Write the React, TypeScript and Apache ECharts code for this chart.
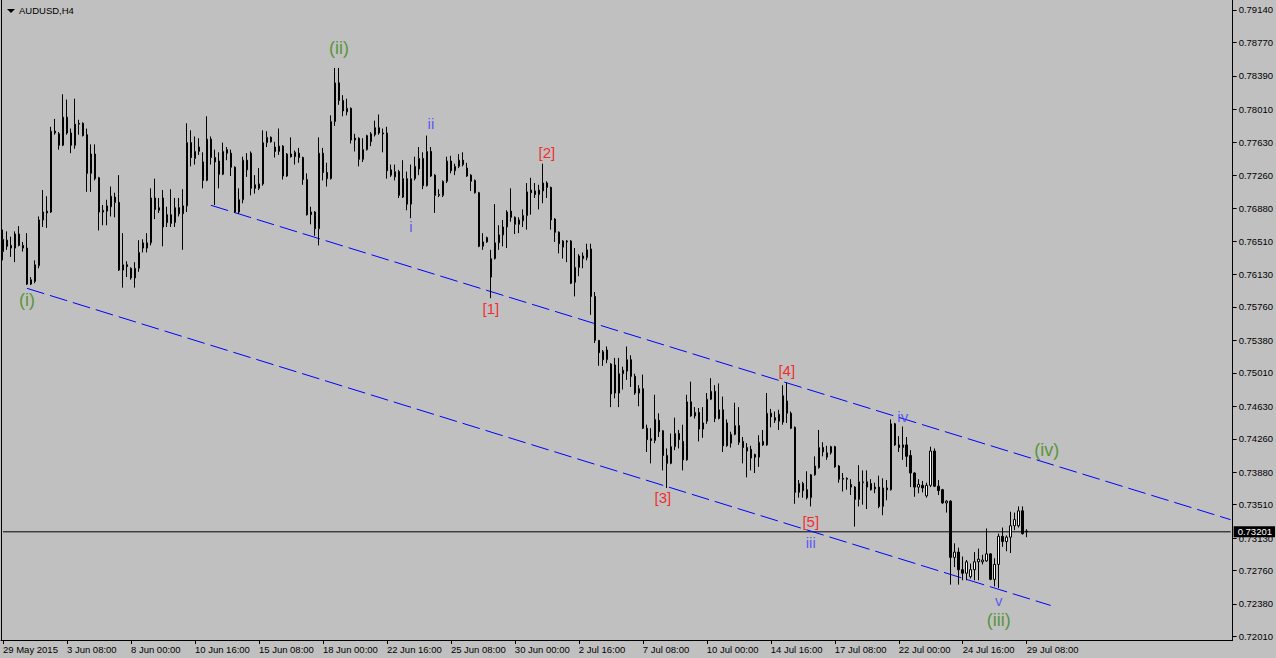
import React, { useEffect, useRef } from "react";
import * as echarts from "echarts";

// OHLC candles, format [open, close, low, high], H4 bars, AUDUSD
const may29 = [
  [0.7639, 0.7653, 0.7629, 0.7664],
  [0.7652, 0.7645, 0.7641, 0.7662],
];
const jun01 = [
  [0.7646, 0.7643, 0.7633, 0.7656],
  [0.7643, 0.7659, 0.7627, 0.7662],
  [0.7659, 0.7646, 0.7645, 0.7668],
  [0.7646, 0.7643, 0.7639, 0.765],
  [0.7643, 0.7602, 0.7601, 0.766],
  [0.7602, 0.7607, 0.7601, 0.761],
  [0.7605, 0.7624, 0.7603, 0.7629],
  [0.7623, 0.7675, 0.762, 0.7679],
  [0.7675, 0.7684, 0.7667, 0.7709],
  [0.7685, 0.7683, 0.7666, 0.7702],
  [0.7684, 0.7776, 0.7683, 0.7781],
  [0.7776, 0.7774, 0.7772, 0.779],
  [0.7773, 0.776, 0.7755, 0.7775],
  [0.776, 0.7792, 0.7759, 0.7818],
  [0.7792, 0.7774, 0.7772, 0.7812],
  [0.7774, 0.776, 0.7751, 0.7779],
  [0.776, 0.7784, 0.7756, 0.7813],
  [0.7784, 0.7785, 0.7772, 0.7789],
  [0.7785, 0.7771, 0.777, 0.7786],
  [0.7772, 0.7728, 0.7707, 0.7779],
  [0.7728, 0.775, 0.7707, 0.7761],
  [0.775, 0.7722, 0.772, 0.7761],
  [0.7723, 0.7684, 0.7663, 0.7724],
  [0.7684, 0.7686, 0.7669, 0.7692],
  [0.7685, 0.7691, 0.7669, 0.7698],
  [0.769, 0.7702, 0.7679, 0.7713],
  [0.7701, 0.7695, 0.7678, 0.7706],
  [0.7695, 0.7618, 0.7617, 0.7726],
  [0.7618, 0.7624, 0.7598, 0.766],
  [0.7624, 0.7622, 0.761, 0.7628],
];
const jun08 = [
  [0.762, 0.7609, 0.7607, 0.7621],
  [0.7609, 0.762, 0.7598, 0.7627],
  [0.762, 0.7638, 0.7616, 0.7652],
  [0.7643, 0.7649, 0.7638, 0.7653],
  [0.7643, 0.7649, 0.7638, 0.766],
  [0.7649, 0.77, 0.7646, 0.7711],
  [0.77, 0.7687, 0.7676, 0.7722],
  [0.7686, 0.7689, 0.7683, 0.77],
  [0.77, 0.7667, 0.7645, 0.7709],
  [0.7681, 0.7672, 0.7667, 0.769],
  [0.7671, 0.7681, 0.7667, 0.771],
  [0.7672, 0.7689, 0.7667, 0.77],
  [0.7689, 0.7682, 0.7679, 0.77],
  [0.7682, 0.7691, 0.7641, 0.771],
  [0.7691, 0.7763, 0.7684, 0.7785],
  [0.7763, 0.7746, 0.7736, 0.7777],
  [0.7745, 0.7753, 0.7738, 0.777],
  [0.7753, 0.7758, 0.7749, 0.7768],
  [0.7741, 0.772, 0.7711, 0.7752],
  [0.772, 0.7767, 0.7719, 0.7793],
  [0.7767, 0.7746, 0.7738, 0.777],
  [0.7746, 0.7741, 0.7692, 0.7755],
  [0.7742, 0.7727, 0.7711, 0.7752],
  [0.7727, 0.7753, 0.7726, 0.7763],
  [0.7755, 0.7751, 0.7743, 0.7758],
  [0.7751, 0.7735, 0.7725, 0.7755],
  [0.7735, 0.7684, 0.7683, 0.7736],
  [0.7684, 0.7698, 0.7682, 0.7711],
  [0.7698, 0.7743, 0.7694, 0.7747],
  [0.7743, 0.7732, 0.7724, 0.7751],
];
const jun15 = [
  [0.7751, 0.7711, 0.7703, 0.7753],
  [0.7715, 0.7711, 0.7705, 0.7726],
  [0.7711, 0.7716, 0.7709, 0.7734],
  [0.7716, 0.7763, 0.7714, 0.7777],
  [0.7763, 0.7769, 0.7758, 0.7776],
  [0.7769, 0.7764, 0.7763, 0.777],
  [0.7758, 0.7753, 0.7746, 0.7764],
  [0.7753, 0.7759, 0.7749, 0.7779],
  [0.7759, 0.7725, 0.7721, 0.776],
  [0.7725, 0.775, 0.7724, 0.7751],
  [0.775, 0.7747, 0.7746, 0.7769],
  [0.7747, 0.7752, 0.7738, 0.7754],
  [0.7751, 0.7746, 0.774, 0.7757],
  [0.7746, 0.7721, 0.7715, 0.7747],
  [0.7721, 0.7681, 0.768, 0.7728],
  [0.7681, 0.7684, 0.767, 0.769],
  [0.7684, 0.7665, 0.7657, 0.7685],
  [0.7665, 0.7751, 0.7646, 0.7769],
  [0.7751, 0.7729, 0.772, 0.7757],
  [0.7729, 0.7722, 0.7713, 0.774],
  [0.7722, 0.7787, 0.7721, 0.7794],
  [0.7787, 0.7831, 0.7782, 0.7848],
  [0.7831, 0.7811, 0.7806, 0.7848],
  [0.7811, 0.7799, 0.7793, 0.7817],
  [0.7798, 0.7802, 0.7794, 0.7813],
  [0.7802, 0.7766, 0.7762, 0.7803],
  [0.7768, 0.7766, 0.7753, 0.7773],
  [0.7768, 0.7744, 0.7736, 0.7769],
  [0.7744, 0.7755, 0.7741, 0.7768],
  [0.7755, 0.7771, 0.7754, 0.7772],
];
const jun22 = [
  [0.7764, 0.7773, 0.7759, 0.7775],
  [0.7772, 0.778, 0.777, 0.7788],
  [0.778, 0.7774, 0.7772, 0.7795],
  [0.7774, 0.7773, 0.7752, 0.7779],
  [0.7774, 0.7731, 0.7722, 0.7781],
  [0.7732, 0.7726, 0.7724, 0.7738],
  [0.7724, 0.773, 0.772, 0.7738],
  [0.773, 0.7703, 0.77, 0.7732],
  [0.7701, 0.7722, 0.77, 0.7743],
  [0.7722, 0.7693, 0.7686, 0.773],
  [0.7693, 0.7722, 0.7677, 0.7738],
  [0.7722, 0.7736, 0.772, 0.7747],
  [0.7733, 0.7745, 0.7726, 0.7758],
  [0.7745, 0.7714, 0.771, 0.7752],
  [0.7714, 0.7753, 0.7713, 0.7771],
  [0.7753, 0.7725, 0.7724, 0.7758],
  [0.7726, 0.7703, 0.7683, 0.7727],
  [0.7703, 0.7704, 0.7701, 0.771],
  [0.7703, 0.7719, 0.7701, 0.772],
  [0.7719, 0.7742, 0.7717, 0.7747],
  [0.7742, 0.7731, 0.7728, 0.7748],
  [0.7731, 0.7736, 0.7726, 0.7739],
  [0.7736, 0.7743, 0.7734, 0.775],
  [0.7743, 0.7738, 0.7736, 0.7752],
  [0.7734, 0.7725, 0.7724, 0.774],
  [0.7726, 0.7719, 0.7708, 0.7727],
  [0.772, 0.7706, 0.7705, 0.7721],
  [0.7706, 0.7645, 0.7644, 0.7707],
  [0.7645, 0.765, 0.7641, 0.766],
  [0.765, 0.7655, 0.7649, 0.7656],
];
const jun29 = [
  [0.761, 0.7631, 0.7586, 0.7641],
  [0.7631, 0.7649, 0.763, 0.7693],
  [0.7649, 0.7658, 0.7641, 0.7669],
  [0.7658, 0.7667, 0.7645, 0.7675],
  [0.7667, 0.7684, 0.7643, 0.7686],
  [0.7685, 0.7678, 0.7673, 0.7711],
  [0.7678, 0.767, 0.7659, 0.7679],
  [0.767, 0.7675, 0.766, 0.7678],
  [0.7674, 0.768, 0.7667, 0.7687],
  [0.768, 0.7707, 0.7664, 0.7717],
  [0.7709, 0.7706, 0.7681, 0.7723],
  [0.7708, 0.7704, 0.77, 0.7717],
  [0.7704, 0.7709, 0.7687, 0.7715],
  [0.7708, 0.7717, 0.7694, 0.7739],
  [0.7717, 0.7712, 0.77, 0.7719],
  [0.7712, 0.7675, 0.7664, 0.7713],
  [0.7676, 0.7661, 0.765, 0.7677],
  [0.7661, 0.7648, 0.7637, 0.7662],
  [0.7644, 0.7651, 0.7631, 0.7652],
  [0.7651, 0.765, 0.7627, 0.7652],
  [0.7651, 0.7603, 0.7602, 0.7652],
  [0.7604, 0.7621, 0.7588, 0.7643],
  [0.7621, 0.7634, 0.7611, 0.7636],
  [0.7634, 0.7631, 0.762, 0.7638],
  [0.7632, 0.7641, 0.7629, 0.7648],
  [0.7642, 0.7588, 0.7567, 0.7648],
  [0.7588, 0.7538, 0.7535, 0.7593],
  [0.7538, 0.7524, 0.7509, 0.7538],
  [0.7525, 0.7516, 0.7509, 0.7527],
  [0.7516, 0.7527, 0.7512, 0.7531],
];
const jul06 = [
  [0.7477, 0.7511, 0.7462, 0.7512],
  [0.751, 0.7478, 0.7472, 0.7518],
  [0.7478, 0.75, 0.7462, 0.7518],
  [0.75, 0.7504, 0.7482, 0.7508],
  [0.7503, 0.7516, 0.7493, 0.7531],
  [0.7516, 0.7497, 0.7485, 0.7521],
  [0.7497, 0.7478, 0.7476, 0.75],
  [0.7478, 0.7483, 0.7463, 0.7487],
  [0.7483, 0.7438, 0.7437, 0.7499],
  [0.7438, 0.7425, 0.7411, 0.7442],
  [0.7426, 0.7424, 0.7398, 0.7438],
  [0.7424, 0.7448, 0.7421, 0.7476],
  [0.7447, 0.7434, 0.7428, 0.7455],
  [0.7435, 0.7407, 0.739, 0.7436],
  [0.7407, 0.7398, 0.737, 0.7415],
  [0.7398, 0.7417, 0.7397, 0.7432],
  [0.7417, 0.7432, 0.7413, 0.745],
  [0.7432, 0.7425, 0.7415, 0.7436],
  [0.7423, 0.7402, 0.739, 0.7442],
  [0.7402, 0.7468, 0.7401, 0.7476],
  [0.7468, 0.7452, 0.7451, 0.7491],
  [0.7452, 0.7456, 0.7449, 0.7462],
  [0.7456, 0.7437, 0.7423, 0.7461],
  [0.7437, 0.7444, 0.7427, 0.7462],
  [0.7446, 0.7471, 0.7443, 0.7478],
  [0.7471, 0.748, 0.747, 0.7495],
  [0.748, 0.7449, 0.7445, 0.7487],
  [0.7449, 0.7459, 0.7448, 0.7489],
  [0.7459, 0.7418, 0.7411, 0.7474],
  [0.7418, 0.7444, 0.7417, 0.7448],
];
const jul13 = [
  [0.7421, 0.7431, 0.7416, 0.7434],
  [0.7431, 0.7441, 0.743, 0.7467],
  [0.7441, 0.7422, 0.7419, 0.7462],
  [0.7423, 0.7416, 0.7398, 0.7428],
  [0.7416, 0.7412, 0.7382, 0.7421],
  [0.7414, 0.7404, 0.739, 0.7418],
  [0.7408, 0.7405, 0.7387, 0.7409],
  [0.7405, 0.7422, 0.7394, 0.743],
  [0.7423, 0.7419, 0.7418, 0.7436],
  [0.7419, 0.7455, 0.7418, 0.7478],
  [0.7455, 0.7451, 0.7439, 0.746],
  [0.745, 0.7447, 0.7444, 0.7457],
  [0.7446, 0.7454, 0.7436, 0.7459],
  [0.7445, 0.7475, 0.7442, 0.7487],
  [0.7455, 0.7469, 0.7444, 0.749],
  [0.7455, 0.7438, 0.7437, 0.7457],
  [0.7439, 0.7365, 0.7352, 0.744],
  [0.7365, 0.7375, 0.7359, 0.7379],
  [0.7375, 0.7367, 0.7359, 0.7377],
  [0.7368, 0.7359, 0.7357, 0.7389],
  [0.7359, 0.7385, 0.7349, 0.7386],
  [0.7385, 0.7395, 0.7384, 0.7406],
  [0.7393, 0.7416, 0.7392, 0.7436],
  [0.7416, 0.7411, 0.7406, 0.7422],
  [0.7405, 0.741, 0.7402, 0.7418],
  [0.741, 0.7417, 0.7408, 0.7418],
  [0.7417, 0.7394, 0.7393, 0.7418],
  [0.7395, 0.738, 0.7376, 0.7396],
  [0.7381, 0.738, 0.7366, 0.7387],
  [0.7381, 0.738, 0.7368, 0.7382],
];
const jul20 = [
  [0.7374, 0.7371, 0.7362, 0.738],
  [0.7371, 0.7357, 0.7326, 0.7372],
  [0.7357, 0.7377, 0.7349, 0.7396],
  [0.7376, 0.7377, 0.7351, 0.739],
  [0.7377, 0.7371, 0.7346, 0.739],
  [0.7375, 0.7368, 0.7367, 0.738],
  [0.7371, 0.7369, 0.7364, 0.7376],
  [0.7371, 0.7349, 0.7347, 0.7384],
  [0.7349, 0.737, 0.7339, 0.7381],
  [0.737, 0.7368, 0.7356, 0.7379],
  [0.7368, 0.7443, 0.7367, 0.7448],
  [0.7443, 0.7419, 0.7418, 0.7444],
  [0.7419, 0.7416, 0.7411, 0.7429],
  [0.7416, 0.7419, 0.7402, 0.744],
  [0.7419, 0.7406, 0.7394, 0.7428],
  [0.7407, 0.7387, 0.7371, 0.7413],
  [0.7387, 0.7371, 0.736, 0.7388],
  [0.7371, 0.7374, 0.7364, 0.738],
  [0.7373, 0.737, 0.7365, 0.7378],
  [0.7361, 0.7373, 0.7359, 0.7376],
  [0.7373, 0.7412, 0.7371, 0.7417],
  [0.7412, 0.7372, 0.7371, 0.7415],
  [0.7372, 0.7367, 0.7362, 0.7379],
  [0.7368, 0.7353, 0.7352, 0.7369],
  [0.7353, 0.7355, 0.7342, 0.7356],
  [0.7355, 0.7291, 0.726, 0.7356],
  [0.7291, 0.7297, 0.728, 0.7307],
  [0.7297, 0.7277, 0.726, 0.7302],
  [0.7277, 0.7273, 0.7265, 0.7292],
  [0.7273, 0.7286, 0.7265, 0.7288],
];
const jul27 = [
  [0.7269, 0.7277, 0.7267, 0.7284],
  [0.7277, 0.7286, 0.7265, 0.7297],
  [0.7286, 0.7289, 0.7265, 0.7301],
  [0.7286, 0.7288, 0.7283, 0.7294],
  [0.7287, 0.7295, 0.7286, 0.7324],
  [0.7295, 0.7266, 0.7265, 0.7296],
  [0.7266, 0.7283, 0.7258, 0.729],
  [0.7283, 0.7315, 0.7256, 0.7318],
  [0.7315, 0.7309, 0.7303, 0.7325],
  [0.7309, 0.7314, 0.7298, 0.7316],
  [0.7314, 0.7327, 0.7296, 0.7343],
  [0.7327, 0.7334, 0.7322, 0.7342],
  [0.7327, 0.7344, 0.7325, 0.7349],
  [0.7344, 0.7318, 0.7317, 0.7349],
  [0.7321, 0.73201, 0.7314, 0.7323],
];

const xTickLabels = [
  "29 May 2015", "3 Jun 08:00", "8 Jun 00:00", "10 Jun 16:00", "15 Jun 08:00",
  "18 Jun 00:00", "22 Jun 16:00", "25 Jun 08:00", "30 Jun 00:00", "2 Jul 16:00",
  "7 Jul 08:00", "10 Jul 00:00", "14 Jul 16:00", "17 Jul 08:00", "22 Jul 00:00",
  "24 Jul 16:00", "29 Jul 08:00",
];
const yTickValues = [
  0.7914, 0.7877, 0.7839, 0.7801, 0.7763, 0.7726, 0.7688, 0.7651, 0.7613, 0.7576,
  0.7538, 0.7501, 0.7463, 0.7426, 0.7388, 0.7351, 0.7313, 0.7276, 0.7238, 0.7201,
];
const lastPrice = 0.73201;

// channel lines: [barIndex, price]
const channelUpper = [[52, 0.76917], [307, 0.73339]];
const channelLower = [[6, 0.75972], [262, 0.72363]];

// wave labels: [barIndex, price, text]
const greenLabels = [[6, 0.75839, "(i)"], [84, 0.78707, "(ii)"], [249, 0.72197, "(iii)"], [261, 0.74132, "(iv)"]];
const blueLabels = [[102, 0.7667, "i"], [107, 0.77853, "ii"], [202, 0.73074, "iii"], [225, 0.74508, "iv"], [249, 0.72425, "v"]];
const redLabels = [[122, 0.75748, "[1]"], [136, 0.77512, "[2]"], [165, 0.73586, "[3]"], [196, 0.75042, "[4]"], [202, 0.73324, "[5]"]];

const TICK_STEP = 16;
const TOTAL_SLOTS = 308;
const Y_MIN = 0.7197;
const Y_MAX = 0.79253;
const FONT = '"Liberation Sans", Arial, sans-serif';

export default function App() {
  const ref = useRef<HTMLDivElement>(null);
  useEffect(() => {
    if (!ref.current) return;
    const chart = echarts.init(ref.current, undefined, { renderer: "svg" });
    const candles = [
      ...may29, ...jun01, ...jun08, ...jun15, ...jun22, ...jun29, ...jul06, ...jul13, ...jul20, ...jul27,
    ];
    const slots = Array.from({ length: TOTAL_SLOTS }, (_, i) => String(i));
    const showTick = (index: number) => index % TICK_STEP === 0 && index / TICK_STEP < xTickLabels.length;
    const labelSeries = (items: any[], color: string, size: number) => ({
      type: "scatter",
      silent: true,
      symbol: "circle",
      symbolSize: 1,
      itemStyle: { color: "rgba(0,0,0,0)" },
      z: 5,
      data: items.map((d) => ({ value: [d[0], d[1]], name: d[2] })),
      label: {
        show: true,
        position: "inside",
        formatter: "{b}",
        color,
        fontSize: size,
        fontFamily: FONT,
      },
    });
    const channelSeries = (pts: number[][]) => ({
      type: "line",
      silent: true,
      symbol: "none",
      data: pts,
      lineStyle: { color: "#0000ff", width: 1, type: [18, 6] },
      z: 3,
    });
    chart.setOption({
      animation: false,
      backgroundColor: "#c0c0c0",
      title: {
        text: "AUDUSD,H4",
        left: 19,
        top: 5,
        padding: 0,
        textStyle: { fontSize: 9.5, fontWeight: "normal", color: "#000", fontFamily: FONT },
      },
      graphic: [
        { type: "polygon", shape: { points: [[7, 9], [15, 9], [11, 13]] }, style: { fill: "#000" } },
      ],
      grid: { left: 1, right: 42, top: 0, bottom: 18, show: false },
      xAxis: {
        type: "category",
        data: slots,
        boundaryGap: true,
        axisLine: { show: true, lineStyle: { color: "#000", width: 1 } },
        axisTick: { show: true, alignWithLabel: true, interval: showTick, length: 4, lineStyle: { color: "#000" } },
        axisLabel: {
          interval: showTick,
          formatter: (_v: string, index: number) => xTickLabels[index / TICK_STEP] ?? "",
          align: "left",
          margin: 4,
          color: "#000",
          fontSize: 9.5,
          fontFamily: FONT,
        },
        splitLine: { show: false },
      },
      yAxis: [
        {
          type: "value",
          position: "right",
          min: Y_MIN,
          max: Y_MAX,
          splitLine: { show: false },
          axisLine: { show: true, onZero: false, lineStyle: { color: "#000" } },
          axisTick: { show: true, length: 4, customValues: yTickValues, lineStyle: { color: "#000" } },
          axisLabel: {
            customValues: yTickValues,
            formatter: (v: number) => v.toFixed(5),
            margin: 6,
            color: "#000",
            fontSize: 9.5,
            fontFamily: FONT,
          },
        },
        {
          type: "value",
          position: "left",
          min: Y_MIN,
          max: Y_MAX,
          splitLine: { show: false },
          axisLine: { show: true, onZero: false, lineStyle: { color: "#000" } },
          axisTick: { show: false },
          axisLabel: { show: false },
        },
      ],
      series: [
        {
          type: "candlestick",
          data: candles,
          barWidth: 2,
          itemStyle: {
            color: "#ffffff",
            color0: "#000000",
            borderColor: "#000000",
            borderColor0: "#000000",
            borderWidth: 1,
          },
          z: 4,
        },
        {
          type: "line",
          silent: true,
          symbol: "none",
          clip: false,
          data: [[0, lastPrice], [TOTAL_SLOTS - 1, lastPrice]],
          lineStyle: { color: "#000", width: 1 },
          z: 2,
          endLabel: {
            show: true,
            formatter: lastPrice.toFixed(5),
            distance: 3,
            color: "#fff",
            backgroundColor: "#000",
            padding: [1, 3, 0, 4],
            fontSize: 9.5,
            fontFamily: FONT,
          },
        },
        channelSeries(channelUpper),
        channelSeries(channelLower),
        labelSeries(greenLabels, "#3a8a12", 18),
        labelSeries(blueLabels, "#4040ff", 15),
        labelSeries(redLabels, "#ff0000", 15),
      ],
    });
    return () => chart.dispose();
  }, []);
  return <div ref={ref} style={{ position: "fixed", left: 0, top: 0, width: 1276, height: 658 }} />;
}
